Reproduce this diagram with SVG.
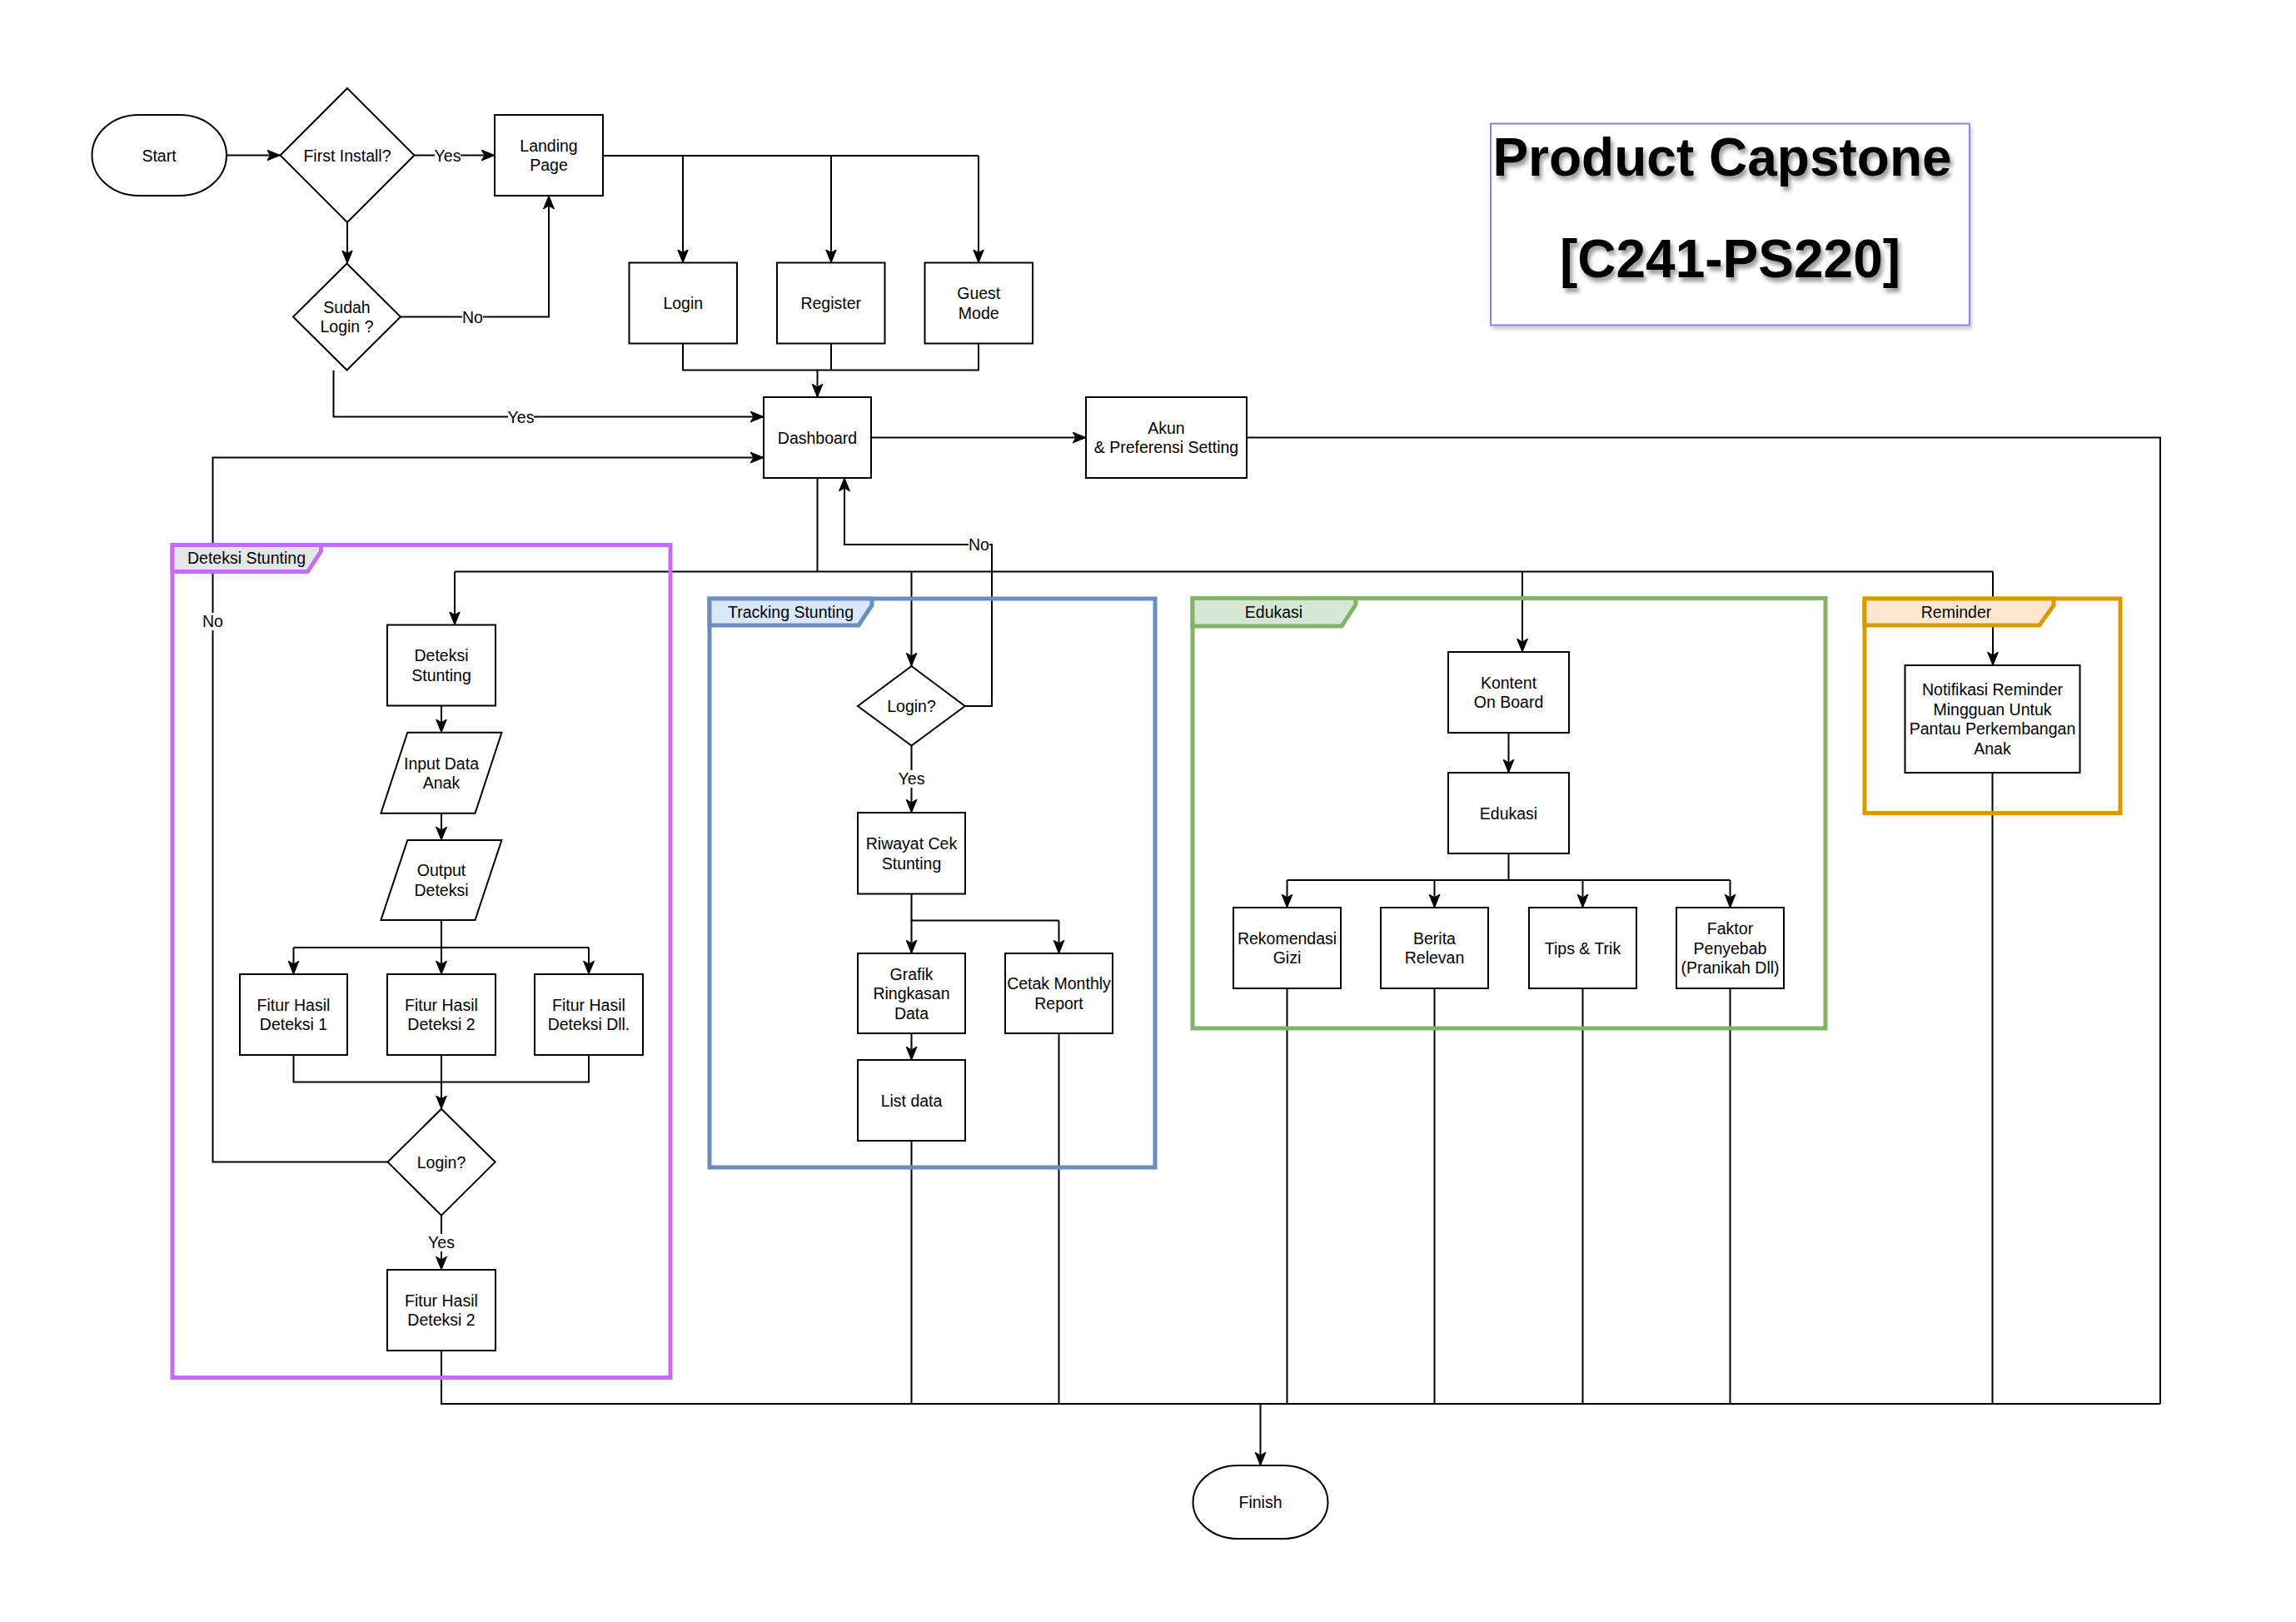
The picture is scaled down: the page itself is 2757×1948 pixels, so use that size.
<svg xmlns="http://www.w3.org/2000/svg" width="2757" height="1948" viewBox="0 0 2757 1948">
<style>
.t{font-family:"Liberation Sans",Arial,Helvetica,sans-serif;font-size:19.5px;text-anchor:middle;fill:#000}
.n{fill:#fff;stroke:#000;stroke-width:2}
.c{fill:none;stroke:#000;stroke-width:2}
.a{marker-end:url(#arr)}
.lb{fill:#fff;stroke:none}
.title{font-family:"Liberation Sans",Arial,Helvetica,sans-serif;font-size:64px;font-weight:bold;text-anchor:middle;fill:#000;filter:url(#tsh)}
.fr{fill:none;stroke-width:5}
.tab{stroke-width:5}
</style>
<defs>
<marker id="arr" markerUnits="userSpaceOnUse" markerWidth="17" markerHeight="14" refX="16" refY="7" orient="auto">
<path d="M0,0.5 L16,7 L0,13.5 L4,7 Z" fill="#000" stroke="#000" stroke-width="1"/>
</marker>
<filter id="tsh" x="-10%" y="-20%" width="120%" height="150%">
<feDropShadow dx="3" dy="5" stdDeviation="2.5" flood-color="#000" flood-opacity="0.4"/>
</filter>
<filter id="bsh" x="-5%" y="-5%" width="110%" height="115%">
<feDropShadow dx="2" dy="4" stdDeviation="2" flood-color="#000" flood-opacity="0.2"/>
</filter>
</defs>
<rect width="2757" height="1948" fill="#fff"/>

<g id="connectors">
<path class="c a" d="M272,186.5 H336.5"/>
<path class="c a" d="M497.5,186.5 H594"/>
<path class="c a" d="M417,267 V316.5"/>
<path class="c a" d="M481,380.5 H659 V235"/>
<path class="c a" d="M400.5,444.7 V500.5 H917"/>
<path class="c" d="M724,187 H1175"/>
<path class="c a" d="M820,187 V315.5"/>
<path class="c a" d="M998,187 V315.5"/>
<path class="c a" d="M1175,187 V315.5"/>
<path class="c" d="M820,412.5 V444.6 H1175 V412.5"/>
<path class="c" d="M998,412.5 V444.6"/>
<path class="c a" d="M981.5,444.6 V477"/>
<path class="c a" d="M1046,525.5 H1304"/>
<path class="c" d="M1497,525.5 H2594 V1686"/>
<path class="c" d="M981.5,574 V686.5"/>
<path class="c" d="M546,686.5 H2393"/>
<path class="c a" d="M546,686.5 V750.5"/>
<path class="c a" d="M1094.5,686.5 V800"/>
<path class="c a" d="M1828,686.5 V783"/>
<path class="c a" d="M2393,686.5 V799"/>
<path class="c a" d="M1158.7,848 H1191 V654 H1014 V574"/>
<path class="c a" d="M465.6,1395.6 H255.5 V549.6 H917"/>
<!-- Deteksi flow -->
<path class="c a" d="M530,847.6 V879.7"/>
<path class="c a" d="M530,976.8 V1009"/>
<path class="c" d="M530,1105 V1138"/>
<path class="c" d="M352.5,1138 H707"/>
<path class="c a" d="M352.5,1138 V1170"/>
<path class="c a" d="M530,1138 V1170"/>
<path class="c a" d="M707,1138 V1170"/>
<path class="c" d="M352.5,1267 V1299.5 H707 V1267"/>
<path class="c" d="M530,1267 V1299.5"/>
<path class="c a" d="M530,1299.5 V1331.7"/>
<path class="c a" d="M530,1459.6 V1525"/>
<!-- Tracking flow -->
<path class="c a" d="M1094.5,895.6 V976"/>
<path class="c" d="M1094.5,1073.5 V1105.5 H1271.5"/>
<path class="c a" d="M1094.5,1105.5 V1145"/>
<path class="c a" d="M1271.5,1105.5 V1145"/>
<path class="c a" d="M1094.5,1241 V1273"/>
<!-- Edukasi flow -->
<path class="c a" d="M1811.5,880 V928"/>
<path class="c" d="M1811.5,1025 V1057"/>
<path class="c" d="M1545.5,1057 H2077.5"/>
<path class="c a" d="M1545.5,1057 V1090"/>
<path class="c a" d="M1722.5,1057 V1090"/>
<path class="c a" d="M1900.5,1057 V1090"/>
<path class="c a" d="M2077.5,1057 V1090"/>
<!-- to Finish -->
<path class="c" d="M530,1622 V1686 H2594"/>
<path class="c" d="M1094.5,1370 V1686"/>
<path class="c" d="M1271.5,1241 V1686"/>
<path class="c" d="M1545.5,1187 V1686"/>
<path class="c" d="M1722.5,1187 V1686"/>
<path class="c" d="M1900.5,1187 V1686"/>
<path class="c" d="M2077.5,1187 V1686"/>
<path class="c" d="M2392.5,928 V1686"/>
<path class="c a" d="M1513.5,1686 V1760"/>
<!-- edge labels -->
<rect class="lb" x="522" y="176" width="31" height="21"/>
<text class="t" x="537.5" y="193.5">Yes</text>
<rect class="lb" x="555" y="370" width="25" height="21"/>
<text class="t" x="567.5" y="387.5">No</text>
<rect class="lb" x="610" y="490" width="31" height="21"/>
<text class="t" x="625.5" y="507.5">Yes</text>
<rect class="lb" x="1163" y="644" width="25" height="21"/>
<text class="t" x="1175.5" y="661">No</text>
<rect class="lb" x="243" y="736" width="25" height="21"/>
<text class="t" x="255.5" y="753">No</text>
<rect class="lb" x="514.5" y="1482" width="31" height="21"/>
<text class="t" x="530" y="1499">Yes</text>
<rect class="lb" x="1079" y="925" width="31" height="21"/>
<text class="t" x="1094.5" y="942">Yes</text>
</g>

<g id="group-deteksi-stunting">
<rect class="fr" x="207" y="654.5" width="598" height="1000" stroke="#c56cf0"/>
<path class="tab" d="M207,654.5 H385.5 V662 L369.5,686.5 H207 Z" fill="#e6e6e6" stroke="#c56cf0"/>
<text class="t" x="296" y="677">Deteksi Stunting</text>
</g>
<g id="group-tracking-stunting">
<rect class="fr" x="852" y="719" width="535" height="683" stroke="#6c8ebf"/>
<path class="tab" d="M852,719 H1047 V727 L1031,751 H852 Z" fill="#dae8fc" stroke="#6c8ebf"/>
<text class="t" x="949.5" y="742">Tracking Stunting</text>
</g>
<g id="group-edukasi">
<rect class="fr" x="1432" y="718.5" width="760" height="516.5" stroke="#82b366"/>
<path class="tab" d="M1432,718.5 H1628 V726 L1611,752 H1432 Z" fill="#d5e8d4" stroke="#82b366"/>
<text class="t" x="1529.5" y="742">Edukasi</text>
</g>
<g id="group-reminder">
<rect class="fr" x="2239" y="719" width="307" height="257.5" stroke="#d79b00"/>
<path class="tab" d="M2239,719 H2466 V727 L2449,751 H2239 Z" fill="#ffe6cc" stroke="#d79b00"/>
<text class="t" x="2349" y="742">Reminder</text>
</g>

<g id="title">
<rect x="1790" y="148.5" width="575" height="242" fill="#fff" stroke="#8c84e8" stroke-width="2" filter="url(#bsh)"/>
<text class="title" x="2068" y="211">Product Capstone</text>
<text class="title" x="2077.5" y="333">[C241-PS220]</text>
</g>

<g id="node-start"><rect class="n" x="110.5" y="138" width="161.5" height="97" rx="56" ry="48.5"/><text class="t" x="191" y="193.5">Start</text></g>
<g id="node-first-install"><polygon class="n" points="417,106 497.5,186.5 417,267 336.5,186.5"/><text class="t" x="417" y="193.5">First Install?</text></g>
<g id="node-landing"><rect class="n" x="594" y="138" width="130" height="97"/><text class="t" x="659" y="181.75">Landing</text><text class="t" x="659" y="205.25">Page</text></g>
<g id="node-sudah-login"><polygon class="n" points="416.5,316.5 481,380.5 416.5,444.5 352,380.5"/><text class="t" x="416.5" y="375.75">Sudah</text><text class="t" x="416.5" y="399.25">Login ?</text></g>
<g id="node-login"><rect class="n" x="755.5" y="315.5" width="129.5" height="97"/><text class="t" x="820.25" y="371">Login</text></g>
<g id="node-register"><rect class="n" x="933" y="315.5" width="129.5" height="97"/><text class="t" x="997.75" y="371">Register</text></g>
<g id="node-guest"><rect class="n" x="1110.5" y="315.5" width="129.5" height="97"/><text class="t" x="1175.25" y="359.25">Guest</text><text class="t" x="1175.25" y="382.75">Mode</text></g>
<g id="node-dashboard"><rect class="n" x="917" y="477" width="129" height="97"/><text class="t" x="981.5" y="532.5">Dashboard</text></g>
<g id="node-akun"><rect class="n" x="1304" y="477" width="193" height="97"/><text class="t" x="1400.5" y="520.75">Akun</text><text class="t" x="1400.5" y="544.25">&amp; Preferensi Setting</text></g>

<g id="node-deteksi-stunting"><rect class="n" x="465" y="750.5" width="130" height="97"/><text class="t" x="530" y="794.25">Deteksi</text><text class="t" x="530" y="817.75">Stunting</text></g>
<g id="node-input-data"><polygon class="n" points="489.3,879.7 602.4,879.7 570.5,976.8 457.4,976.8"/><text class="t" x="530" y="923.5">Input Data</text><text class="t" x="530" y="947">Anak</text></g>
<g id="node-output-deteksi"><polygon class="n" points="489.3,1009 602.4,1009 570.5,1105 457.4,1105"/><text class="t" x="530" y="1052.25">Output</text><text class="t" x="530" y="1075.75">Deteksi</text></g>
<g id="node-fitur1"><rect class="n" x="288" y="1170" width="129" height="97"/><text class="t" x="352.5" y="1213.75">Fitur Hasil</text><text class="t" x="352.5" y="1237.25">Deteksi 1</text></g>
<g id="node-fitur2"><rect class="n" x="465" y="1170" width="130" height="97"/><text class="t" x="530" y="1213.75">Fitur Hasil</text><text class="t" x="530" y="1237.25">Deteksi 2</text></g>
<g id="node-fitur-dll"><rect class="n" x="642" y="1170" width="130" height="97"/><text class="t" x="707" y="1213.75">Fitur Hasil</text><text class="t" x="707" y="1237.25">Deteksi Dll.</text></g>
<g id="node-login-deteksi"><polygon class="n" points="530,1331.7 594.6,1395.6 530,1459.6 465.6,1395.6"/><text class="t" x="530" y="1402.6">Login?</text></g>
<g id="node-fitur2-final"><rect class="n" x="465" y="1525" width="130" height="97"/><text class="t" x="530" y="1568.75">Fitur Hasil</text><text class="t" x="530" y="1592.25">Deteksi 2</text></g>

<g id="node-login-tracking"><polygon class="n" points="1094.5,800 1158.7,848 1094.5,895.6 1030,848"/><text class="t" x="1094.5" y="855">Login?</text></g>
<g id="node-riwayat"><rect class="n" x="1030" y="976" width="129" height="97.5"/><text class="t" x="1094.5" y="1020">Riwayat Cek</text><text class="t" x="1094.5" y="1043.5">Stunting</text></g>
<g id="node-grafik"><rect class="n" x="1030" y="1145" width="129" height="96"/><text class="t" x="1094.5" y="1176.5">Grafik</text><text class="t" x="1094.5" y="1200">Ringkasan</text><text class="t" x="1094.5" y="1223.5">Data</text></g>
<g id="node-cetak"><rect class="n" x="1207" y="1145" width="129" height="96"/><text class="t" x="1271.5" y="1188.25">Cetak Monthly</text><text class="t" x="1271.5" y="1211.75">Report</text></g>
<g id="node-list-data"><rect class="n" x="1030" y="1273" width="129" height="97"/><text class="t" x="1094.5" y="1328.5">List data</text></g>

<g id="node-kontent"><rect class="n" x="1739" y="783" width="145" height="97"/><text class="t" x="1811.5" y="826.75">Kontent</text><text class="t" x="1811.5" y="850.25">On Board</text></g>
<g id="node-edukasi"><rect class="n" x="1739" y="928" width="145" height="97"/><text class="t" x="1811.5" y="983.5">Edukasi</text></g>
<g id="node-rekomendasi"><rect class="n" x="1481" y="1090" width="129" height="97"/><text class="t" x="1545.5" y="1133.75">Rekomendasi</text><text class="t" x="1545.5" y="1157.25">Gizi</text></g>
<g id="node-berita"><rect class="n" x="1658" y="1090" width="129" height="97"/><text class="t" x="1722.5" y="1133.75">Berita</text><text class="t" x="1722.5" y="1157.25">Relevan</text></g>
<g id="node-tips"><rect class="n" x="1836" y="1090" width="129" height="97"/><text class="t" x="1900.5" y="1145.5">Tips &amp; Trik</text></g>
<g id="node-faktor"><rect class="n" x="2013" y="1090" width="129" height="97"/><text class="t" x="2077.5" y="1122">Faktor</text><text class="t" x="2077.5" y="1145.5">Penyebab</text><text class="t" x="2077.5" y="1169">(Pranikah Dll)</text></g>

<g id="node-notifikasi"><rect class="n" x="2287.5" y="799" width="210" height="129"/><text class="t" x="2392.5" y="835.25">Notifikasi Reminder</text><text class="t" x="2392.5" y="858.75">Mingguan Untuk</text><text class="t" x="2392.5" y="882.25">Pantau Perkembangan</text><text class="t" x="2392.5" y="905.75">Anak</text></g>

<g id="node-finish"><rect class="n" x="1432.5" y="1760" width="162" height="88" rx="54" ry="44"/><text class="t" x="1513.5" y="1811">Finish</text></g>
</svg>
